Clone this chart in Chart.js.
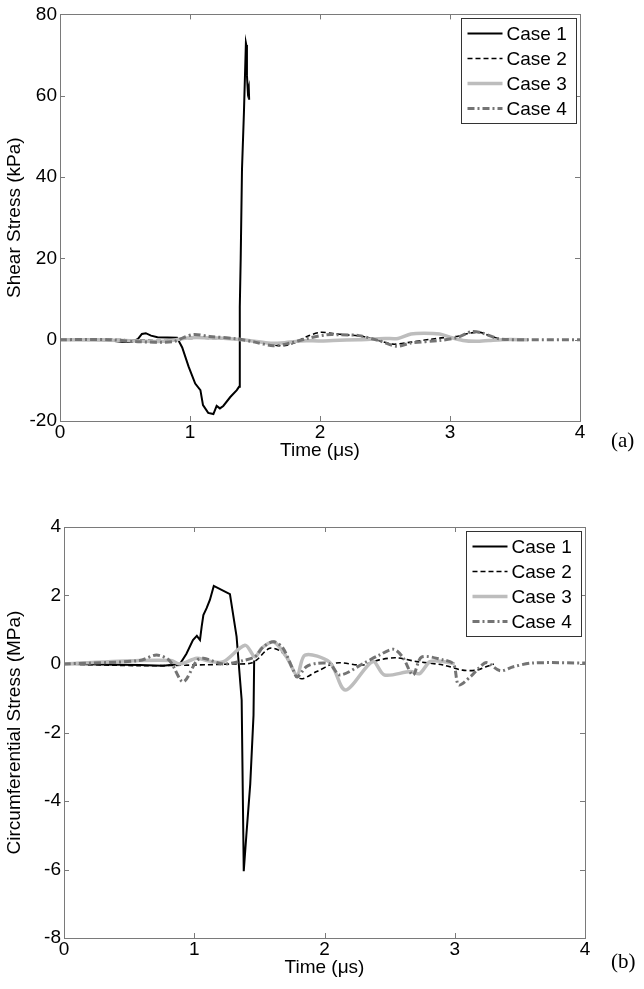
<!DOCTYPE html>
<html>
<head>
<meta charset="utf-8">
<script src="https://cdn.jsdelivr.net/npm/chart.js@4.4.0/dist/chart.umd.min.js"></script>
<style>
body { margin: 0; background: #fff; }
#wrap { position: relative; width: 644px; height: 989px; }
canvas { position: absolute; left: 0; }
.tag { position: absolute; font-family: "Liberation Serif", "Times New Roman", serif; font-size: 21px; line-height: 24px; color: #000; }
</style>
</head>
<body>
<div id="wrap">
  <canvas id="shear" width="644" height="494" style="top:0"></canvas>
  <canvas id="circ" width="644" height="495" style="top:494px"></canvas>
  <div class="tag" style="left:611px;top:428px">(a)</div>
  <div class="tag" style="left:611px;top:949px">(b)</div>
</div>
<script>
// tick labels
const timeTicks = [0, 1, 2, 3, 4];
const shearTicks = [-20, 0, 20, 40, 60, 80];
const circTicks = [-8, -6, -4, -2, 0, 2, 4];

const caseLabels = ["Case 1", "Case 2", "Case 3", "Case 4"];

// (a) shear stress, kPa
const shearT1 = [0, 0.3, 0.42, 0.48, 0.55, 0.6, 0.63, 0.66, 0.7, 0.75, 0.9, 0.94, 0.99, 1.04, 1.08, 1.10, 1.14, 1.18, 1.205, 1.23, 1.256, 1.31, 1.36, 1.377, 1.383, 1.39, 1.40, 1.415, 1.43, 1.433, 1.438, 1.445, 1.452, 1.455];
const shearV1 = [0, 0, -0.3, -0.6, -0.6, 0.2, 1.4, 1.6, 1.0, 0.6, 0.5, -1.9, -6.7, -10.8, -12.4, -16.1, -18, -18.3, -16.3, -16.9, -16.3, -14.1, -12.4, -11.6, 8, 20, 42, 56, 73, 72.5, 65, 61, 62, 59];

const shearT2 = [0, 0.5, 0.8, 1.0, 1.2, 1.4, 1.55, 1.65, 1.72, 1.8, 1.9, 2.0, 2.1, 2.2, 2.33, 2.45, 2.56, 2.7, 2.85, 2.95, 3.05, 3.15, 3.23, 3.3, 3.4];
const shearV2 = [0, 0, -0.2, 0.3, 0.3, 0, -0.6, -1.3, -1.5, -0.8, 0.8, 1.8, 1.5, 1.2, 0.8, -0.2, -1.1, -0.6, 0.1, 0.5, 0.8, 1.6, 1.8, 1.0, 0];

const shearT3 = [0, 0.5, 0.8, 1.0, 1.2, 1.4, 1.6, 1.7, 1.85, 2.0, 2.1, 2.3, 2.5, 2.6, 2.7, 2.8, 2.92, 3.0, 3.1, 3.2, 3.3, 3.4, 3.6];
const shearV3 = [0, -0.2, -0.4, 0.5, 0.4, 0, -0.8, -0.8, -0.3, -0.3, -0.2, 0, 0.3, 0.3, 1.4, 1.6, 1.4, 0.6, -0.2, -0.4, -0.2, 0, 0];

const shearT4 = [0, 0.38, 0.6, 0.87, 0.95, 1.03, 1.15, 1.36, 1.5, 1.64, 1.75, 1.9, 2.05, 2.15, 2.3, 2.45, 2.59, 2.7, 2.92, 3.05, 3.17, 3.25, 3.38, 3.6, 4.0];
const shearV4 = [0, 0, -0.5, -0.5, 0.5, 1.3, 0.8, 0.2, -0.6, -1.5, -1.0, 0.3, 1.2, 1.2, 1.0, -0.2, -1.6, -0.8, -0.2, 0.5, 2.0, 1.6, 0.2, 0, 0];

// (b) circumferential stress, MPa
const circT1 = [0, 0.58, 0.76, 0.89, 0.94, 0.99, 1.02, 1.044, 1.057, 1.07, 1.095, 1.12, 1.15, 1.274, 1.325, 1.364, 1.38, 1.40, 1.43, 1.455, 1.46];
const circV1 = [0, -0.03, -0.05, 0, 0.3, 0.7, 0.82, 0.7, 1.09, 1.43, 1.63, 1.87, 2.28, 2.04, 0.8, -1.05, -6.05, -5.0, -3.5, -1.5, 0.1];

const circT2 = [0, 0.6, 1.0, 1.3, 1.43, 1.48, 1.58, 1.68, 1.81, 1.94, 2.09, 2.29, 2.42, 2.55, 2.71, 2.91, 3.06, 3.17, 3.24, 3.3];
const circV2 = [0, -0.05, -0.03, 0, 0.02, 0.12, 0.46, 0.32, -0.42, -0.22, 0.03, -0.03, 0.12, 0.18, 0.07, -0.03, -0.18, -0.18, -0.08, 0];

const circT3 = [0, 0.58, 0.82, 0.89, 1.02, 1.095, 1.22, 1.39, 1.466, 1.52, 1.61, 1.71, 1.79, 1.85, 2.04, 2.16, 2.37, 2.46, 2.66, 2.73, 2.81, 2.91, 3.0];
const circV3 = [0, 0.1, 0.1, 0, 0.17, 0.1, 0.06, 0.55, 0.21, 0.47, 0.65, 0.2, -0.32, 0.26, 0.05, -0.76, 0.07, -0.32, -0.22, -0.28, 0.07, 0.07, 0];

const circT4 = [0, 0.58, 0.71, 0.81, 0.915, 1.02, 1.07, 1.22, 1.376, 1.466, 1.53, 1.61, 1.68, 1.76, 1.79, 1.86, 1.94, 2.04, 2.12, 2.30, 2.42, 2.53, 2.60, 2.68, 2.745, 2.91, 2.99, 3.03, 3.12, 3.19, 3.245, 3.35, 3.45, 3.6, 4.0];
const circV4 = [0, 0.1, 0.26, 0.1, -0.52, 0.1, 0.17, 0, 0.1, 0.21, 0.5, 0.65, 0.47, -0.18, -0.38, -0.08, 0.02, 0, -0.32, 0.02, 0.26, 0.43, 0.2, -0.32, 0.2, 0.12, 0, -0.61, -0.37, -0.1, 0.04, -0.2, -0.08, 0.03, 0.03];

// line styles
const caseColors = ["#000000", "#000000", "#bdbdbd", "#747474"];
const caseWidths = [2, 1.6, 3.5, 3];
const caseDashes = [[], [5, 3], [], [7, 3, 2, 3]];
const caseTension = [0, 0.3, 0.3, 0.3];

const font = { family: "'Liberation Sans', Arial, sans-serif", size: 19 };
const frameColor = "#7a7a7a";

function series(t, v) {
    return t.map(function (x, i) { return { x: x, y: v[i] }; });
}

function buildDatasets(list) {
    return list.map(function (s, i) {
        return {
            label: caseLabels[i],
            data: series(s[0], s[1]),
            borderColor: caseColors[i],
            borderWidth: caseWidths[i],
            borderDash: caseDashes[i],
            pointRadius: 0,
            tension: caseTension[i],
            fill: false,
            order: 4 - i
        };
    });
}

// box round the axes, inward ticks and the legend, like the matlab figure
const matlabFrame = {
    id: 'matlabFrame',
    afterDatasetsDraw(chart) {
        const ctx = chart.ctx, a = chart.chartArea;
        const sx = chart.scales.x, sy = chart.scales.y;
        ctx.save();
        ctx.strokeStyle = frameColor;
        ctx.lineWidth = 1;
        ctx.setLineDash([]);
        ctx.strokeRect(Math.round(a.left) + 0.5, Math.round(a.top) + 0.5, Math.round(a.right - a.left), Math.round(a.bottom - a.top));
        ctx.beginPath();
        sx.ticks.forEach(function (t) {
            const px = Math.round(sx.getPixelForValue(t.value)) + 0.5;
            ctx.moveTo(px, a.bottom); ctx.lineTo(px, a.bottom - 5);
            ctx.moveTo(px, a.top); ctx.lineTo(px, a.top + 5);
        });
        sy.ticks.forEach(function (t) {
            const py = Math.round(sy.getPixelForValue(t.value)) + 0.5;
            ctx.moveTo(a.left, py); ctx.lineTo(a.left + 5, py);
            ctx.moveTo(a.right, py); ctx.lineTo(a.right - 5, py);
        });
        ctx.stroke();

        // legend
        const w = 115, h = 105;
        const bx = Math.round(a.right - 4 - w) + 0.5, by = Math.round(a.top + 4) + 0.5;
        ctx.fillStyle = '#fff';
        ctx.fillRect(bx, by, w, h);
        ctx.strokeStyle = '#333';
        ctx.strokeRect(bx, by, w, h);
        ctx.font = font.size + "px " + font.family;
        ctx.textBaseline = 'middle';
        chart.data.datasets.forEach(function (ds, i) {
            const y = by + 15 + i * 25;
            ctx.beginPath();
            ctx.strokeStyle = ds.borderColor;
            ctx.lineWidth = ds.borderWidth;
            ctx.setLineDash(ds.borderDash);
            ctx.moveTo(bx + 6, y);
            ctx.lineTo(bx + 41, y);
            ctx.stroke();
            ctx.setLineDash([]);
            ctx.fillStyle = '#000';
            ctx.fillText(ds.label, bx + 45, y + 1);
        });
        ctx.restore();
    }
};

function makeChart(id, datasets, yTicks, yTitle, box) {
    return new Chart(document.getElementById(id), {
        type: 'line',
        data: { datasets: datasets },
        plugins: [matlabFrame],
        options: {
            responsive: false,
            animation: false,
            layout: { padding: { left: 0, right: box.right, top: box.top, bottom: 0 } },
            plugins: { legend: { display: false }, tooltip: { enabled: false } },
            scales: {
                x: {
                    type: 'linear',
                    min: timeTicks[0],
                    max: timeTicks[timeTicks.length - 1],
                    afterBuildTicks: function (s) { s.ticks = timeTicks.map(function (v) { return { value: v }; }); },
                    afterFit: function (s) { s.height = box.xHeight; },
                    ticks: { font: font, color: '#000', padding: 0, maxRotation: 0, callback: function (v) { return String(v); } },
                    grid: { display: false, drawTicks: false },
                    border: { display: false },
                    title: { display: true, text: 'Time (μs)', font: font, color: '#000', padding: { top: 0, bottom: box.xTitlePad } }
                },
                y: {
                    min: yTicks[0],
                    max: yTicks[yTicks.length - 1],
                    afterBuildTicks: function (s) { s.ticks = yTicks.map(function (v) { return { value: v }; }); },
                    afterFit: function (s) { s.width = box.yWidth; },
                    ticks: { font: font, color: '#000', padding: 3, callback: function (v) { return String(v); } },
                    grid: { display: false, drawTicks: false },
                    border: { display: false },
                    title: { display: true, text: yTitle, font: font, color: '#000', padding: { top: 3, bottom: 0 } }
                }
            }
        }
    });
}

const shearChart = makeChart('shear', buildDatasets([
    [shearT1, shearV1], [shearT2, shearV2], [shearT3, shearV3], [shearT4, shearV4]
]), shearTicks, 'Shear Stress (kPa)', { right: 64, top: 10, xHeight: 73, xTitlePad: 32, yWidth: 60 });

const circChart = makeChart('circ', buildDatasets([
    [circT1, circV1], [circT2, circV2], [circT3, circV3], [circT4, circV4]
]), circTicks, 'Circumferential Stress (MPa)', { right: 59, top: 33, xHeight: 51, xTitlePad: 10, yWidth: 64 });
</script>
</body>
</html>
